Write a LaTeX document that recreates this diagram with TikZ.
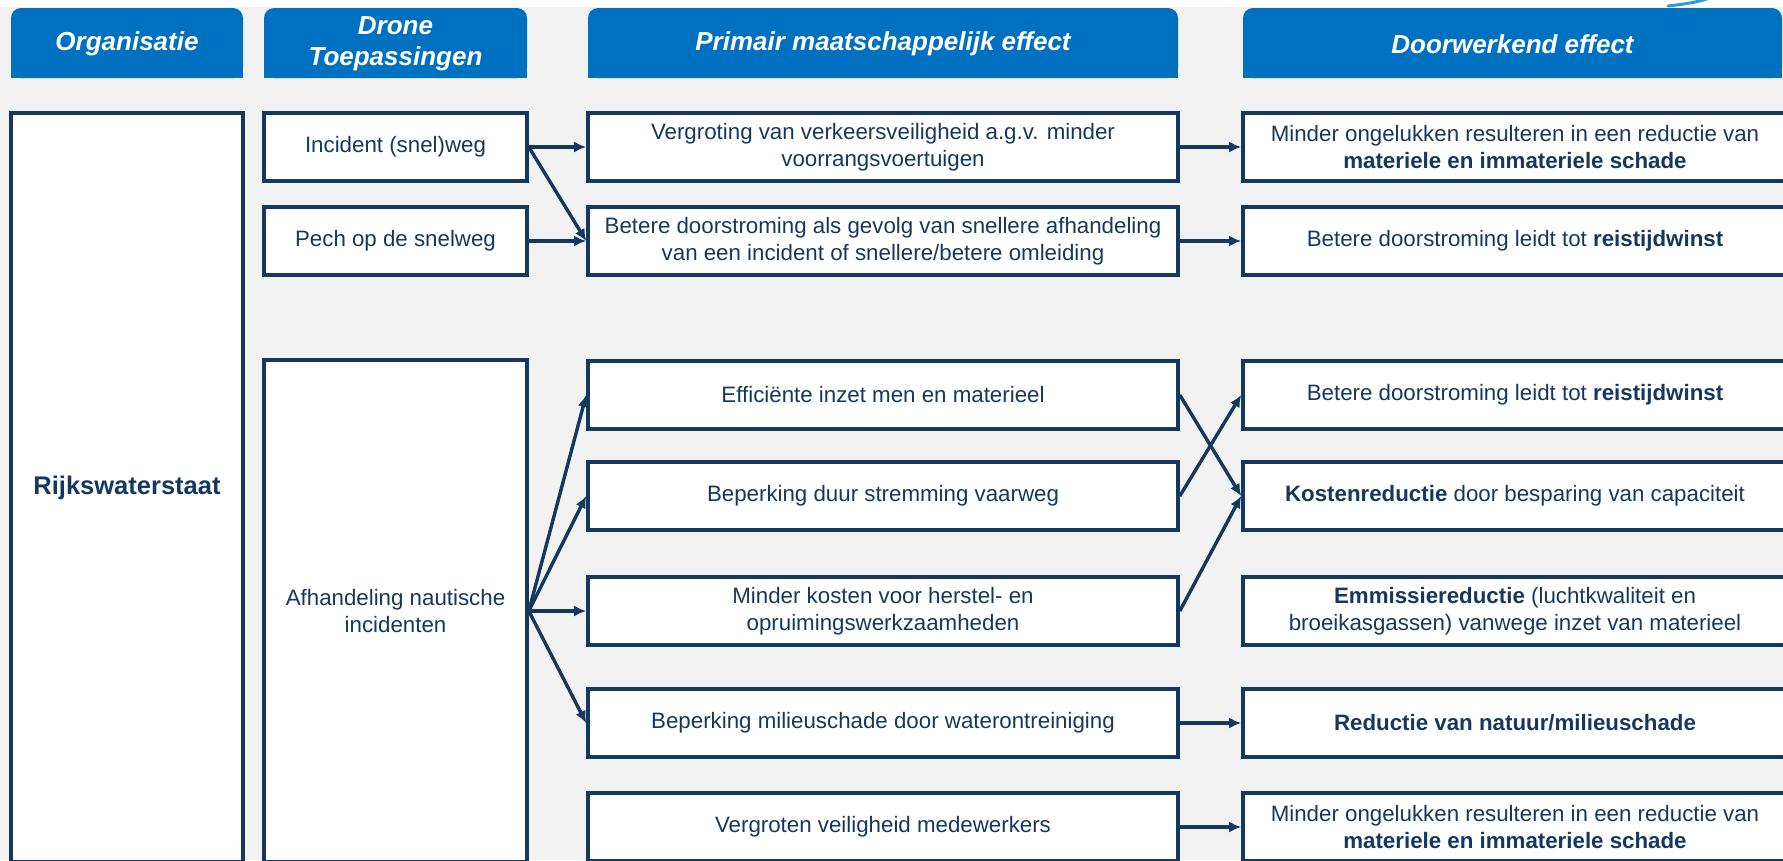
\documentclass[tikz,border=0pt]{standalone}
\usepackage{fontspec}
\setmainfont{Liberation Sans}
\usetikzlibrary{arrows.meta}
\definecolor{navy}{HTML}{15395E}
\definecolor{hdrblue}{HTML}{0070C0}
\definecolor{bggray}{HTML}{F2F2F2}
\definecolor{swooshblue}{HTML}{2E9BE0}
\newcommand\mybodyfont{\fontsize{22.3}{27}\selectfont}
\newcommand\myhdrfont{\fontsize{26}{31}\selectfont\bfseries\itshape}
\newcommand\myorgfont{\fontsize{25.5}{30}\selectfont\bfseries}
\newcommand\hdr[4]{%
  \fill[hdrblue, rounded corners=10pt] (#2,8) rectangle (#3,78);
  \fill[hdrblue] (#2,40) rectangle (#3,78);
  \node[hdrtext] (#1) at ({(#2+#3)/2},44) {#4};}
\begin{document}
\begin{tikzpicture}[x=1pt,y=-1pt,
  box/.style={draw=navy, line width=3.6pt, fill=white, text=navy, align=center, font=\mybodyfont, inner sep=0pt},
  hdrtext/.style={text=white, font=\myhdrfont, align=center, inner sep=0pt},
  c2/.style={box, minimum width=263pt, minimum height=68pt},
  c3/.style={box, minimum width=590pt, minimum height=68pt},
  c4/.style={box, minimum width=544pt, minimum height=68pt},
  arr/.style={draw=navy, line width=3.4pt, -{Latex[length=12pt,width=11pt]}}]
\useasboundingbox (0,0) rectangle (1783,860);
\clip (0,0) rectangle (1783,860);
\fill[bggray] (0,0) rectangle (1783,860);
\fill[white] (0,0) rectangle (1783,7);
\draw[swooshblue, line width=3pt, line cap=round] (1668,6) .. controls (1685,4) and (1700,2) .. (1712,-3);

\hdr{h1}{11}{243}{Organisatie}
\hdr{h2}{264}{527}{Drone\\Toepassingen}
\hdr{h3}{588}{1178}{Primair maatschappelijk effect}
\hdr{h4}{1243}{1782}{Doorwerkend effect}

\node[box, minimum width=232pt, minimum height=749pt, font=\myorgfont] (org) at (127,487.5) {Rijkswaterstaat};

\node[c2] (inc) at (395.5,147) {Incident (snel)weg};
\node[c2] (pech) at (395.5,241) {Pech op de snelweg};
\node[box, minimum width=263pt, minimum height=502pt] (afh) at (395.5,611) {Afhandeling nautische\\incidenten};

\node[c3] (p1) at (883,147) {Vergroting van verkeersveiligheid a.g.v. minder\\voorrangsvoertuigen};
\node[c3] (p2) at (883,241) {Betere doorstroming als gevolg van snellere afhandeling\\van een incident of snellere/betere omleiding};
\node[c3] (p3) at (883,395) {Efficiënte inzet men en materieel};
\node[c3] (p4) at (883,496) {Beperking duur stremming vaarweg};
\node[c3] (p5) at (883,611) {Minder kosten voor herstel- en\\opruimingswerkzaamheden};
\node[c3] (p6) at (883,723) {Beperking milieuschade door waterontreiniging};
\node[c3] (p7) at (883,827) {Vergroten veiligheid medewerkers};

\node[c4] (d1) at (1515,147) {Minder ongelukken resulteren in een reductie van\\\textbf{materiele en immateriele schade}};
\node[c4] (d2) at (1515,241) {Betere doorstroming leidt tot \textbf{reistijdwinst}};
\node[c4] (d3) at (1515,395) {Betere doorstroming leidt tot \textbf{reistijdwinst}};
\node[c4] (d4) at (1515,496) {\textbf{Kostenreductie} door besparing van capaciteit};
\node[c4] (d5) at (1515,611) {\textbf{Emmissiereductie} (luchtkwaliteit en\\broeikasgassen) vanwege inzet van materieel};
\node[c4] (d6) at (1515,723) {\textbf{Reductie van natuur/milieuschade}};
\node[c4] (d7) at (1515,827) {Minder ongelukken resulteren in een reductie van\\\textbf{materiele en immateriele schade}};

\draw[arr] (inc.east) -- (p1.west);
\draw[arr] (inc.east) -- (p2.west);
\draw[arr] (pech.east) -- (p2.west);
\draw[arr] (afh.east) -- (p3.west);
\draw[arr] (afh.east) -- (p4.west);
\draw[arr] (afh.east) -- (p5.west);
\draw[arr] (afh.east) -- (p6.west);
\draw[arr] (p1.east) -- (d1.west);
\draw[arr] (p2.east) -- (d2.west);
\draw[arr] (p3.east) -- (d4.west);
\draw[arr] (p4.east) -- (d3.west);
\draw[arr] (p5.east) -- (d4.west);
\draw[arr] (p6.east) -- (d6.west);
\draw[arr] (p7.east) -- (d7.west);
\end{tikzpicture}
\end{document}
